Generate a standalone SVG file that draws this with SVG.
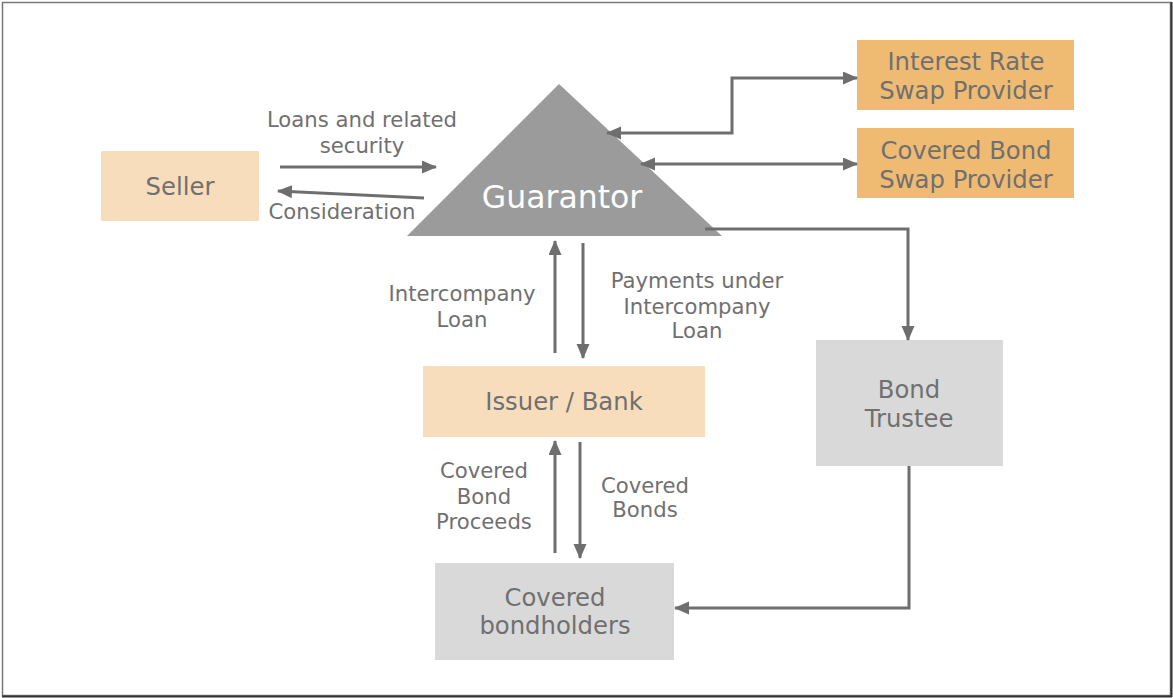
<svg xmlns="http://www.w3.org/2000/svg" width="1173" height="698" viewBox="0 0 1173 698">
<style>
  .lbl { font-family: "DejaVu Sans", Verdana, sans-serif; font-size: 21.2px; fill: #707070; text-anchor: middle; }
  .box { font-family: "DejaVu Sans", Verdana, sans-serif; font-size: 24.3px; fill: #707070; text-anchor: middle; }
  .peach { fill: #F8DDBC; }
  .orange { fill: #EFBB73; }
  .grey { fill: #D9D9D9; }
  .conn { fill: none; stroke: #6E6E6E; stroke-width: 3; }
</style>
<defs>
  <marker id="ah" markerUnits="userSpaceOnUse" markerWidth="16" markerHeight="14" refX="14" refY="6.5" orient="auto-start-reverse">
    <path d="M0,0 L15,6.5 L0,13 z" fill="#6E6E6E"/>
  </marker>
</defs>
<rect x="0" y="0" width="1173" height="698" fill="#ffffff"/>
<rect x="2.5" y="2.5" width="1168" height="693" fill="none" stroke="#777777" stroke-width="1.5"/>
<line x1="1171.5" y1="2" x2="1171.5" y2="697" stroke="#333333" stroke-width="2"/>
<line x1="2" y1="696.5" x2="1172" y2="696.5" stroke="#333333" stroke-width="2"/>

<g id="seller">
  <rect class="peach" x="101" y="151" width="158" height="70"/>
  <text class="box" x="180" y="195">Seller</text>
</g>
<g id="guarantor">
  <polygon points="559,84 407,236 722,236" fill="#9B9B9B"/>
  <text x="562" y="208" font-family="'DejaVu Sans', Verdana, sans-serif" font-size="31.5" fill="#ffffff" text-anchor="middle">Guarantor</text>
</g>
<g id="irs-provider">
  <rect class="orange" x="857" y="40" width="217" height="70"/>
  <text class="box" x="966" y="70">Interest Rate</text>
  <text class="box" x="966" y="99">Swap Provider</text>
</g>
<g id="cbs-provider">
  <rect class="orange" x="857" y="128" width="217" height="70"/>
  <text class="box" x="966" y="159">Covered Bond</text>
  <text class="box" x="966" y="188">Swap Provider</text>
</g>
<g id="issuer">
  <rect class="peach" x="423" y="366" width="282" height="71"/>
  <text class="box" x="564" y="410">Issuer / Bank</text>
</g>
<g id="trustee">
  <rect class="grey" x="816" y="340" width="187" height="126"/>
  <text class="box" x="909" y="398">Bond</text>
  <text class="box" x="909" y="427">Trustee</text>
</g>
<g id="bondholders">
  <rect class="grey" x="435" y="563" width="239" height="97"/>
  <text class="box" x="555" y="606">Covered</text>
  <text class="box" x="555" y="634">bondholders</text>
</g>

<g id="connectors">
  <line class="conn" x1="280" y1="167" x2="436" y2="167" marker-end="url(#ah)"/>
  <line class="conn" x1="424" y1="198" x2="278" y2="191" marker-end="url(#ah)"/>
  <path class="conn" d="M607,133 H732 V78 H857" marker-start="url(#ah)" marker-end="url(#ah)"/>
  <path class="conn" d="M641,164 H857" marker-start="url(#ah)" marker-end="url(#ah)"/>
  <path class="conn" d="M705,229 H908 V340" marker-end="url(#ah)"/>
  <path class="conn" d="M909,466 V608 H675" marker-end="url(#ah)"/>
  <path class="conn" d="M555,353 V241" marker-end="url(#ah)"/>
  <path class="conn" d="M583,243 V358" marker-end="url(#ah)"/>
  <path class="conn" d="M555,553 V441" marker-end="url(#ah)"/>
  <path class="conn" d="M580,442 V558" marker-end="url(#ah)"/>
</g>

<g id="labels">
  <text class="lbl" x="362" y="127">Loans and related</text>
  <text class="lbl" x="362" y="153">security</text>
  <text class="lbl" x="342" y="219">Consideration</text>
  <text class="lbl" x="462" y="301">Intercompany</text>
  <text class="lbl" x="462" y="327">Loan</text>
  <text class="lbl" x="697" y="288">Payments under</text>
  <text class="lbl" x="697" y="314">Intercompany</text>
  <text class="lbl" x="697" y="338">Loan</text>
  <text class="lbl" x="484" y="478">Covered</text>
  <text class="lbl" x="484" y="504">Bond</text>
  <text class="lbl" x="484" y="529">Proceeds</text>
  <text class="lbl" x="645" y="493">Covered</text>
  <text class="lbl" x="645" y="517">Bonds</text>
</g>
</svg>
